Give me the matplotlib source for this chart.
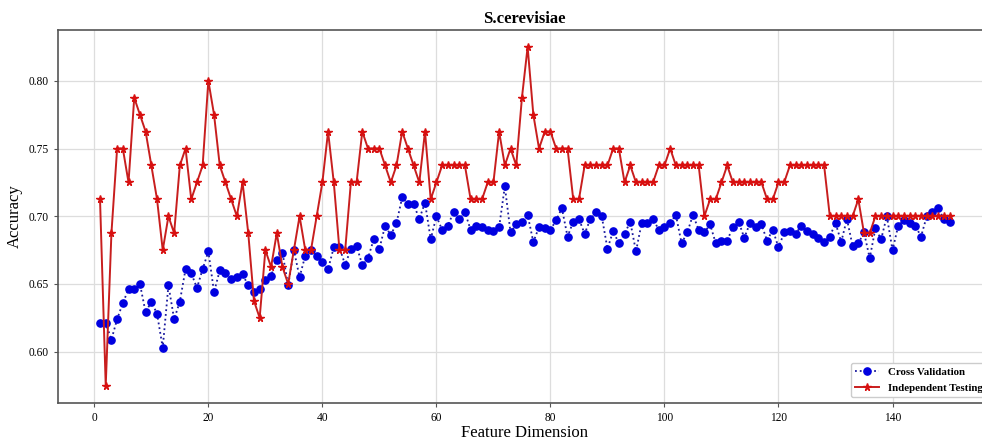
import numpy as np
import matplotlib
matplotlib.use("Agg")
import matplotlib.pyplot as plt

# Données ======================================================================
dims = np.arange(1, 151)

cross_val = [
    0.621, 0.621, 0.609, 0.624, 0.636, 0.646, 0.646, 0.650, 0.629, 0.637,
    0.628, 0.603, 0.649, 0.624, 0.637, 0.661, 0.658, 0.647, 0.661, 0.674,
    0.644, 0.660, 0.658, 0.654, 0.655, 0.657, 0.649, 0.644, 0.646, 0.653,
    0.656, 0.668, 0.673, 0.649, 0.675, 0.655, 0.671, 0.675, 0.671, 0.666,
    0.661, 0.677, 0.677, 0.664, 0.676, 0.678, 0.664, 0.669, 0.683, 0.676,
    0.693, 0.686, 0.695, 0.714, 0.709, 0.709, 0.698, 0.710, 0.683, 0.700,
    0.690, 0.693, 0.703, 0.698, 0.703, 0.690, 0.693, 0.692, 0.690, 0.689,
    0.692, 0.722, 0.688, 0.694, 0.696, 0.701, 0.681, 0.692, 0.691, 0.690,
    0.697, 0.706, 0.685, 0.696, 0.698, 0.687, 0.698, 0.703, 0.700, 0.676,
    0.689, 0.680, 0.687, 0.696, 0.674, 0.695, 0.695, 0.698, 0.690, 0.692,
    0.695, 0.701, 0.680, 0.688, 0.701, 0.690, 0.688, 0.694, 0.680, 0.682,
    0.682, 0.692, 0.696, 0.684, 0.695, 0.692, 0.694, 0.682, 0.690, 0.677,
    0.688, 0.689, 0.687, 0.693, 0.689, 0.687, 0.684, 0.681, 0.685, 0.695,
    0.681, 0.698, 0.678, 0.680, 0.688, 0.669, 0.691, 0.683, 0.700, 0.675,
    0.693, 0.697, 0.695, 0.693, 0.685, 0.700, 0.703, 0.706, 0.698, 0.696,
]

indep_test = [
    0.7125, 0.575, 0.6875, 0.75, 0.75, 0.725, 0.7875, 0.775, 0.7625, 0.7375,
    0.7125, 0.675, 0.70, 0.6875, 0.7375, 0.75, 0.7125, 0.725, 0.7375, 0.80,
    0.775, 0.7375, 0.725, 0.7125, 0.70, 0.725, 0.6875, 0.6375, 0.625, 0.675,
    0.6625, 0.6875, 0.6625, 0.65, 0.675, 0.70, 0.675, 0.675, 0.70, 0.725,
    0.7625, 0.725, 0.675, 0.675, 0.725, 0.725, 0.7625, 0.75, 0.75, 0.75,
    0.7375, 0.725, 0.7375, 0.7625, 0.75, 0.7375, 0.725, 0.7625, 0.7125, 0.725,
    0.7375, 0.7375, 0.7375, 0.7375, 0.7375, 0.7125, 0.7125, 0.7125, 0.725, 0.725,
    0.7625, 0.7375, 0.75, 0.7375, 0.7875, 0.825, 0.775, 0.75, 0.7625, 0.7625,
    0.75, 0.75, 0.75, 0.7125, 0.7125, 0.7375, 0.7375, 0.7375, 0.7375, 0.7375,
    0.75, 0.75, 0.725, 0.7375, 0.725, 0.725, 0.725, 0.725, 0.7375, 0.7375,
    0.75, 0.7375, 0.7375, 0.7375, 0.7375, 0.7375, 0.70, 0.7125, 0.7125, 0.725,
    0.7375, 0.725, 0.725, 0.725, 0.725, 0.725, 0.725, 0.7125, 0.7125, 0.725,
    0.725, 0.7375, 0.7375, 0.7375, 0.7375, 0.7375, 0.7375, 0.7375, 0.70, 0.70,
    0.70, 0.70, 0.70, 0.7125, 0.6875, 0.6875, 0.70, 0.70, 0.70, 0.70,
    0.70, 0.70, 0.70, 0.70, 0.70, 0.70, 0.70, 0.70, 0.70, 0.70,
]

y_ticks = [0.60, 0.65, 0.70, 0.75, 0.80]
x_ticks = [0, 20, 40, 60, 80, 100, 120, 140]

# Figure ======================================================================
plt.rcParams['font.family'] = ['Liberation Serif', 'DejaVu Serif']
fig = plt.figure(figsize=(9.82, 4.41), dpi=100)
# l'axe depasse un peu a droite (figure rognee dans l'original)
ax = fig.add_axes([0.0586, 0.0873, 0.9516, 0.8447])

ax.plot(dims, cross_val, linestyle=':', color='#1a1a9e', linewidth=1.3,
        marker='o', markersize=5.2, markerfacecolor='#0000e0',
        markeredgecolor='#0000e0', label='Cross Validation')
ax.plot(dims, indep_test, linestyle='-', color='#c81e1e', linewidth=1.4,
        marker='*', markersize=5.5, markerfacecolor='#d81010',
        markeredgecolor='#d81010', label='Independent Testing')

ax.set_xticks(x_ticks)
ax.set_yticks(y_ticks)
ax.yaxis.set_major_formatter(matplotlib.ticker.FormatStrFormatter('%.2f'))
ax.tick_params(labelsize=8.3, length=3, color='#555555')
ax.grid(True, color='#dddddd', linewidth=0.9)
ax.set_axisbelow(True)
for s in ax.spines.values():
    s.set_color('#555555')
    s.set_linewidth(1.2)

ax.set_title('S.cerevisiae', fontsize=12, fontweight='bold', pad=5)
ax.set_xlabel('Feature Dimension', fontsize=12, labelpad=1)
ax.set_ylabel('Accuracy', fontsize=12)

ax.legend(loc='lower right', prop={'weight': 'bold', 'size': 7.8},
          handlelength=2.2, borderaxespad=0.5, framealpha=1,
          edgecolor='#cccccc', labelspacing=0.6)

fig.savefig('out.png', dpi=100)
